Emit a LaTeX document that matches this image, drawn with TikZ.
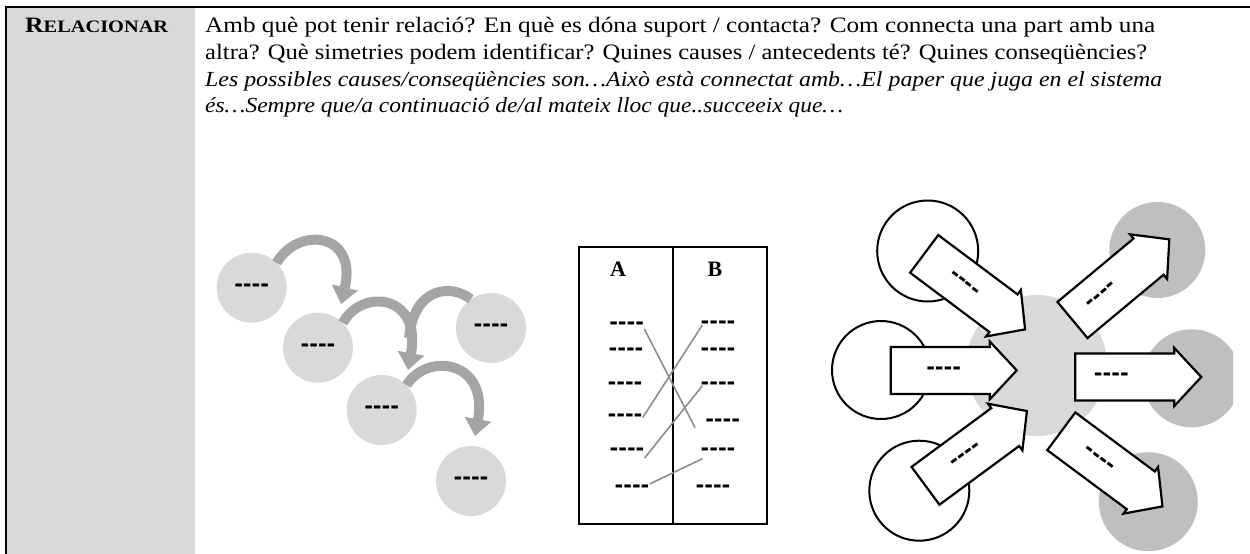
\documentclass[tikz,border=0pt]{standalone}
\usepackage{fontspec}
\usepackage{graphicx}
\setmainfont{Liberation Serif}
\newfontfamily\dashfont{DejaVu Sans}
\usetikzlibrary{arrows.meta,calc}
\definecolor{lgrey}{HTML}{D9D9D9}
\definecolor{mgrey}{HTML}{BFBFBF}
\definecolor{agrey}{HTML}{A5A5A5}
\definecolor{lineg}{HTML}{8C8C8C}
\newcommand{\dsh}{{\dashfont\bfseries -{}-{}-{}-}}
\newcommand{\fitline}[2]{\resizebox{#1}{\height}{#2}}
\newcommand{\myblockarrow}[5]{%
  \begin{scope}[shift={(#2,#3)},rotate=#4]
    \draw[barrow] (0,-23.5) -- (99,-23.5) -- (99,-29) -- (126,0) -- (99,29) -- (99,23.5) -- (0,23.5) -- cycle;
    \node[dtext,rotate=#4] (#1) at (#5,0) {\dsh};
  \end{scope}}
\tikzset{
  txt/.style={anchor=base west,inner sep=0pt,font=\fontsize{22}{22}\selectfont},
  itxt/.style={anchor=base west,inner sep=0pt,font=\fontsize{21.5}{21.5}\selectfont\itshape},
  dtext/.style={inner sep=0pt,font=\fontsize{21}{21}\selectfont},
  lcirc/.style={circle,fill=lgrey,minimum size=70pt,inner sep=0pt,font=\fontsize{21}{21}\selectfont},
  wcirc/.style={circle,draw=black,line width=2pt,fill=white,inner sep=0pt},
  gcirc/.style={circle,fill=mgrey,inner sep=0pt},
  barrow/.style={draw=black,line width=2.2pt,fill=white,line join=miter},
  curv/.style={draw=agrey,line width=10pt,-{Triangle[width=26pt,length=17pt]}},
  curvn/.style={draw=agrey,line width=10pt},
  link/.style={draw=lineg,line width=1.6pt},
  colhead/.style={inner sep=0pt,font=\fontsize{22}{22}\selectfont\bfseries}
}
\begin{document}
\begin{tikzpicture}[x=1pt,y=-1pt]
\useasboundingbox (0,0) rectangle (1250,554);
% frame and grey column
\fill[lgrey] (7,8) rectangle (195,554);
\draw[line width=2.6pt] (6,554) -- (6,7) -- (1250,7);
% heading
\node[anchor=base west,inner sep=0pt] (title) at (25,32) {\fitline{143pt}{\bfseries\fontsize{22}{22}\selectfont R\fontsize{17.5}{17.5}\selectfont ELACIONAR}};
\node[txt] (l1) at (205,32) {\fitline{950pt}{Amb què pot tenir relació? En què es dóna suport / contacta? Com connecta una part amb una}};
\node[txt] (l2) at (205,59) {\fitline{942pt}{altra? Què simetries podem identificar? Quines causes / antecedents té? Quines conseqüències?}};
\node[itxt] (l3) at (205,86) {\fitline{957pt}{Les possibles causes/conseqüències son…Això està connectat amb…El paper que juga en el sistema}};
\node[itxt] (l4) at (205,112) {\fitline{638pt}{és…Sempre que/a continuació de/al mateix lloc que..succeeix que…}};
% ---------- left diagram ----------
\node[lcirc] (c1) at (251.7,287.7) {\dsh};
\node[lcirc] (c2) at (318,347.7) {\dsh};
\node[lcirc] (c3) at (491,328) {\dsh};
\node[lcirc] (c4) at (381.7,410) {\dsh};
\node[lcirc] (c5) at (471,481) {\dsh};
\draw[curvn] (c3.125) .. controls (452,284) and (414,286) .. (409,338);
\draw[curv] (c1.45) .. controls (298,226) and (358,232) .. (341,304);
\draw[curv] (c2.45) .. controls (362,288) and (422,294) .. (408,370);
\draw[curv] (c4.45) .. controls (427,352) and (489,360) .. (475,436);
% ---------- middle table ----------
\draw[line width=2.2pt] (579,247) rectangle (767,524);
\draw[line width=1.6pt] (673,247) -- (673,524);
\node[colhead] (A) at (618,269) {A};
\node[colhead] (B) at (715,269) {B};
\node[dtext] (a1) at (626.7,326) {\dsh};
\node[dtext] (a2) at (626,351.7) {\dsh};
\node[dtext] (a3) at (625,385.7) {\dsh};
\node[dtext] (a4) at (625,417.7) {\dsh};
\node[dtext] (a5) at (627,452) {\dsh};
\node[dtext] (a6) at (632,489) {\dsh};
\node[dtext] (b1) at (718,325) {\dsh};
\node[dtext] (b2) at (718,351.7) {\dsh};
\node[dtext] (b3) at (718,385.7) {\dsh};
\node[dtext] (b4) at (722.7,422.7) {\dsh};
\node[dtext] (b5) at (718,451.7) {\dsh};
\node[dtext] (b6) at (713,489) {\dsh};
\draw[link] ($(a1.east)+(0,3)$) -- ($(b4.west)+(-10,5)$);
\draw[link] ($(a4.east)+(0,0)$) -- ($(b1.west)+(2,0)$);
\draw[link] ($(a5.east)+(0,6)$) -- ($(b3.west)+(2,0)$);
\draw[link] ($(a6.east)+(0,-5)$) -- ($(b5.west)+(2,7)$);
% ---------- right diagram ----------
\node[wcirc,minimum size=101pt] (w1) at (927.7,251) {};
\node[wcirc,minimum size=98pt] (w2) at (881,370) {};
\node[wcirc,minimum size=100pt] (w3) at (919.3,490.7) {};
\node[circle,fill=lgrey,minimum size=141pt,inner sep=0pt] (ctr) at (1036.7,365.5) {};
\node[gcirc,minimum size=96pt] (g1) at (1157.3,250) {};
\begin{scope}
\clip (1000,300) rectangle (1233,460);
\node[gcirc,minimum size=98pt] (g2) at (1191.7,378.3) {};
\end{scope}
\node[gcirc,minimum size=99pt] (g3) at (1148.3,501.7) {};
\myblockarrow{ml}{890.7}{370.4}{0}{53}
\myblockarrow{mr}{1075.3}{377}{0}{36}
\myblockarrow{tl}{924.2}{253.9}{-36.8}{50}
\myblockarrow{bl}{925.5}{485.8}{36.4}{51}
\myblockarrow{tr}{1072.5}{320}{39.8}{38}
\myblockarrow{br}{1061.3}{431.3}{-36.6}{47}
\end{tikzpicture}
\end{document}
